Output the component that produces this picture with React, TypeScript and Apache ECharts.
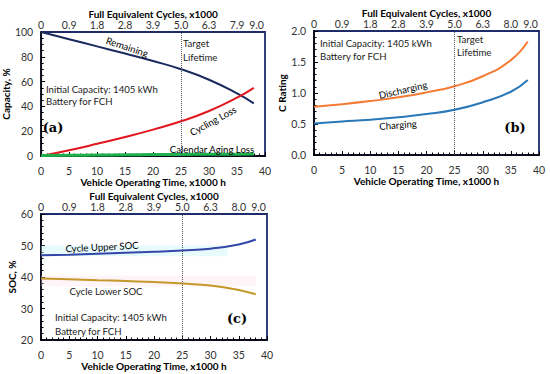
import React, { useEffect, useRef } from "react";
import * as echarts from "echarts";

const hours = [0, 5, 10, 15, 20, 25, 30, 35, 38];
const remaining = [100, 94.2, 88.4, 82.6, 76.6, 70, 61.5, 50.5, 42.5];
const cyclingLoss = [0, 4.6, 9.8, 15.3, 21.3, 28, 36.3, 47, 55];
const calendarLoss = [0.4, 0.6, 0.8, 1.0, 1.15, 1.3, 1.4, 1.5, 1.6];
const discharging = [0.78, 0.82, 0.87, 0.93, 1.01, 1.11, 1.27, 1.53, 1.83];
const charging = [0.51, 0.54, 0.57, 0.61, 0.66, 0.73, 0.85, 1.02, 1.21];
const upperSoc = [46.9, 47.1, 47.4, 47.7, 48.0, 48.4, 49.0, 50.3, 51.9];
const lowerSoc = [39.5, 39.3, 39.0, 38.7, 38.4, 37.9, 37.3, 35.9, 34.5];

const topTickHours = [0, 5, 10, 15, 20, 25, 30, 35, 38.5];
const cyclesA = ["0", "0.9", "1.8", "2.8", "3.9", "5.0", "6.3", "7.9", "9.0"];
const cyclesBC = ["0", "0.9", "1.8", "2.8", "3.9", "5.0", "6.3", "8.0", "9.0"];
const targetHours = 25;

const FONT = "Lato, 'Open Sans', sans-serif";
const NAVY = "#1F2C6C";
const TITLE_SIZE = 10;
const TICK_SIZE = 10.5;
const NOTE_SIZE = 9.6;

const pairs = (ys: number[]) => hours.map((h, i) => [h, ys[i]]);

function bottomAxis(gridIndex: number) {
  return {
    type: "value",
    gridIndex,
    position: "bottom",
    min: 0,
    max: 40,
    interval: 5,
    name: "Vehicle Operating Time, x1000 h",
    nameLocation: "middle",
    nameGap: 21,
    nameTextStyle: { fontWeight: "bold", fontSize: TITLE_SIZE, color: "#000", fontFamily: FONT },
    axisLine: { show: true, onZero: false, lineStyle: { color: "#000", width: 1.5 } },
    axisTick: { show: true, inside: true, length: 4, lineStyle: { color: "#000" } },
    minorTick: { show: true, splitNumber: 5, length: 2.5, lineStyle: { color: "#000" } },
    axisLabel: { margin: 9, fontSize: TICK_SIZE, color: "#333", fontFamily: FONT },
    splitLine: { show: false },
  };
}

function topAxis(gridIndex: number, labels: string[]) {
  return {
    type: "value",
    gridIndex,
    position: "top",
    min: 0,
    max: 40,
    interval: 0.5,
    name: "Full Equivalent Cycles, x1000",
    nameLocation: "middle",
    nameGap: 10,
    nameTextStyle: { fontWeight: "bold", fontSize: TITLE_SIZE, color: "#000", fontFamily: FONT },
    axisLine: { show: false },
    axisTick: { show: false },
    axisLabel: {
      margin: 1.5,
      fontSize: TICK_SIZE,
      color: "#333",
      fontFamily: FONT,
      formatter: (v: number) => {
        const idx = topTickHours.findIndex((h) => Math.abs(h - v) < 1e-6);
        return idx >= 0 ? labels[idx] : "";
      },
    },
    splitLine: { show: false },
  };
}

function leftAxis(gridIndex: number, name: string, min: number, max: number, interval: number, minorSplit: number, fmt?: (v: number) => string) {
  return {
    type: "value",
    gridIndex,
    position: "left",
    min,
    max,
    interval,
    name,
    nameLocation: "middle",
    nameGap: 18,
    nameTextStyle: { fontWeight: "bold", fontSize: TITLE_SIZE, color: "#000", fontFamily: FONT },
    axisLine: { show: true, onZero: false, lineStyle: { color: "#000", width: 1.5 } },
    axisTick: { show: true, inside: true, length: 4, lineStyle: { color: "#000" } },
    minorTick: { show: true, splitNumber: minorSplit, length: 2.5, lineStyle: { color: "#000" } },
    axisLabel: { margin: 8, fontSize: TICK_SIZE, color: "#333", fontFamily: FONT, formatter: fmt },
    splitLine: { show: false },
  };
}

const targetLine = {
  silent: true,
  symbol: ["none", "none"],
  label: { show: false },
  lineStyle: { type: "dotted", color: "#555", width: 1 },
  data: [{ xAxis: targetHours }],
};

function lineSeries(name: string, ys: number[], color: string, xi: number, yi: number, width = 2, extra: any = {}) {
  return {
    type: "line",
    name,
    xAxisIndex: xi,
    yAxisIndex: yi,
    data: pairs(ys),
    smooth: true,
    symbol: "none",
    lineStyle: { color, width },
    itemStyle: { color },
    ...extra,
  };
}

function txt(text: string, x: number, y: number, opts: any = {}) {
  return {
    type: "text",
    x,
    y,
    rotation: opts.rotation || 0,
    z: 100,
    style: {
      text,
      fontSize: opts.fontSize || NOTE_SIZE,
      fontFamily: opts.fontFamily || FONT,
      fontWeight: opts.fontWeight || "normal",
      fill: opts.fill || "#222",
      align: opts.align || "left",
      verticalAlign: "middle",
    },
  };
}

export default function App() {
  const ref = useRef<HTMLDivElement>(null);
  useEffect(() => {
    if (!ref.current) return;
    const chart = echarts.init(ref.current, undefined, { renderer: "svg" });
    const gridBase = { show: true, borderColor: NAVY, borderWidth: 1.8, backgroundColor: "transparent", containLabel: false };
    const serif = "'DejaVu Serif', serif";
    const option: any = {
      animation: false,
      backgroundColor: "#fff",
      textStyle: { fontFamily: FONT },
      grid: [
        { ...gridBase, left: 38, top: 32, width: 227, height: 124 },
        { ...gridBase, left: 314, top: 31, width: 225, height: 124 },
        { ...gridBase, left: 41, top: 214, width: 226, height: 126 },
      ],
      xAxis: [
        bottomAxis(0),
        topAxis(0, cyclesA),
        bottomAxis(1),
        topAxis(1, cyclesBC),
        bottomAxis(2),
        topAxis(2, cyclesBC),
      ],
      yAxis: [
        leftAxis(0, "Capacity, %", 0, 100, 20, 4),
        leftAxis(1, "C Rating", 0, 2, 0.5, 5, (v: number) => v.toFixed(1)),
        leftAxis(2, "SOC, %", 20, 60, 10, 5),
      ],
      series: [
        lineSeries("Remaining", remaining, "#1B2A5E", 0, 0, 2, { markLine: targetLine }),
        lineSeries("Cycling Loss", cyclingLoss, "#E3161E", 0, 0, 2),
        lineSeries("Calendar Aging Loss", calendarLoss, "#1EB04C", 0, 0, 3),
        lineSeries("Discharging", discharging, "#F47B36", 2, 1, 2, { markLine: targetLine }),
        lineSeries("Charging", charging, "#2A78B8", 2, 1, 2),
        lineSeries("Cycle Upper SOC", upperSoc, "#3347A8", 4, 2, 2, {
          markLine: targetLine,
          markArea: {
            silent: true,
            itemStyle: { color: "rgba(195,242,248,0.4)" },
            data: [[{ coord: [0, 46.6] }, { coord: [33, 50] }]],
          },
        }),
        lineSeries("Cycle Lower SOC", lowerSoc, "#C4982A", 4, 2, 2, {
          markArea: {
            silent: true,
            itemStyle: { color: "rgba(255,218,230,0.3)" },
            data: [[{ coord: [0, 37] }, { coord: [38, 40.5] }]],
          },
        }),
      ],
      graphic: [
        // panel (a)
        txt("Remaining", 127, 47, { rotation: -0.32, fill: "#000", align: "center" }),
        txt("Target", 183, 43),
        txt("Lifetime", 183, 57),
        txt("Initial Capacity: 1405 kWh", 46, 89),
        txt("Battery for FCH", 46, 101),
        txt("(a)", 53, 127, { fontSize: 13, fontWeight: "bold", fontFamily: serif, align: "center", fill: "#000" }),
        txt("Cycling Loss", 213, 121, { rotation: 0.5, align: "center", fill: "#000" }),
        txt("Calendar Aging Loss", 212, 149, { align: "center", fill: "#000" }),
        // panel (b)
        txt("Initial Capacity: 1405 kWh", 320, 43),
        txt("Battery for FCH", 320, 56),
        txt("Target", 457, 39),
        txt("Lifetime", 457, 52),
        txt("Discharging", 403, 90, { rotation: 0.23, align: "center", fill: "#000" }),
        txt("Charging", 398, 125, { rotation: 0.08, align: "center", fill: "#000" }),
        txt("(b)", 515, 127, { fontSize: 13, fontWeight: "bold", fontFamily: serif, align: "center", fill: "#000" }),
        // panel (c)
        txt("Cycle Upper SOC", 102, 247, { rotation: 0.05, align: "center", fill: "#000" }),
        txt("Cycle Lower SOC", 106, 291, { align: "center", fill: "#222" }),
        txt("Initial Capacity: 1405 kWh", 55, 317),
        txt("Battery for FCH", 55, 331),
        txt("(c)", 237, 318, { fontSize: 13, fontWeight: "bold", fontFamily: serif, align: "center", fill: "#000" }),
      ],
    };
    chart.setOption(option);
    return () => chart.dispose();
  }, []);
  return <div ref={ref} style={{ position: "fixed", left: 0, top: 0, width: 550, height: 374 }} />;
}
